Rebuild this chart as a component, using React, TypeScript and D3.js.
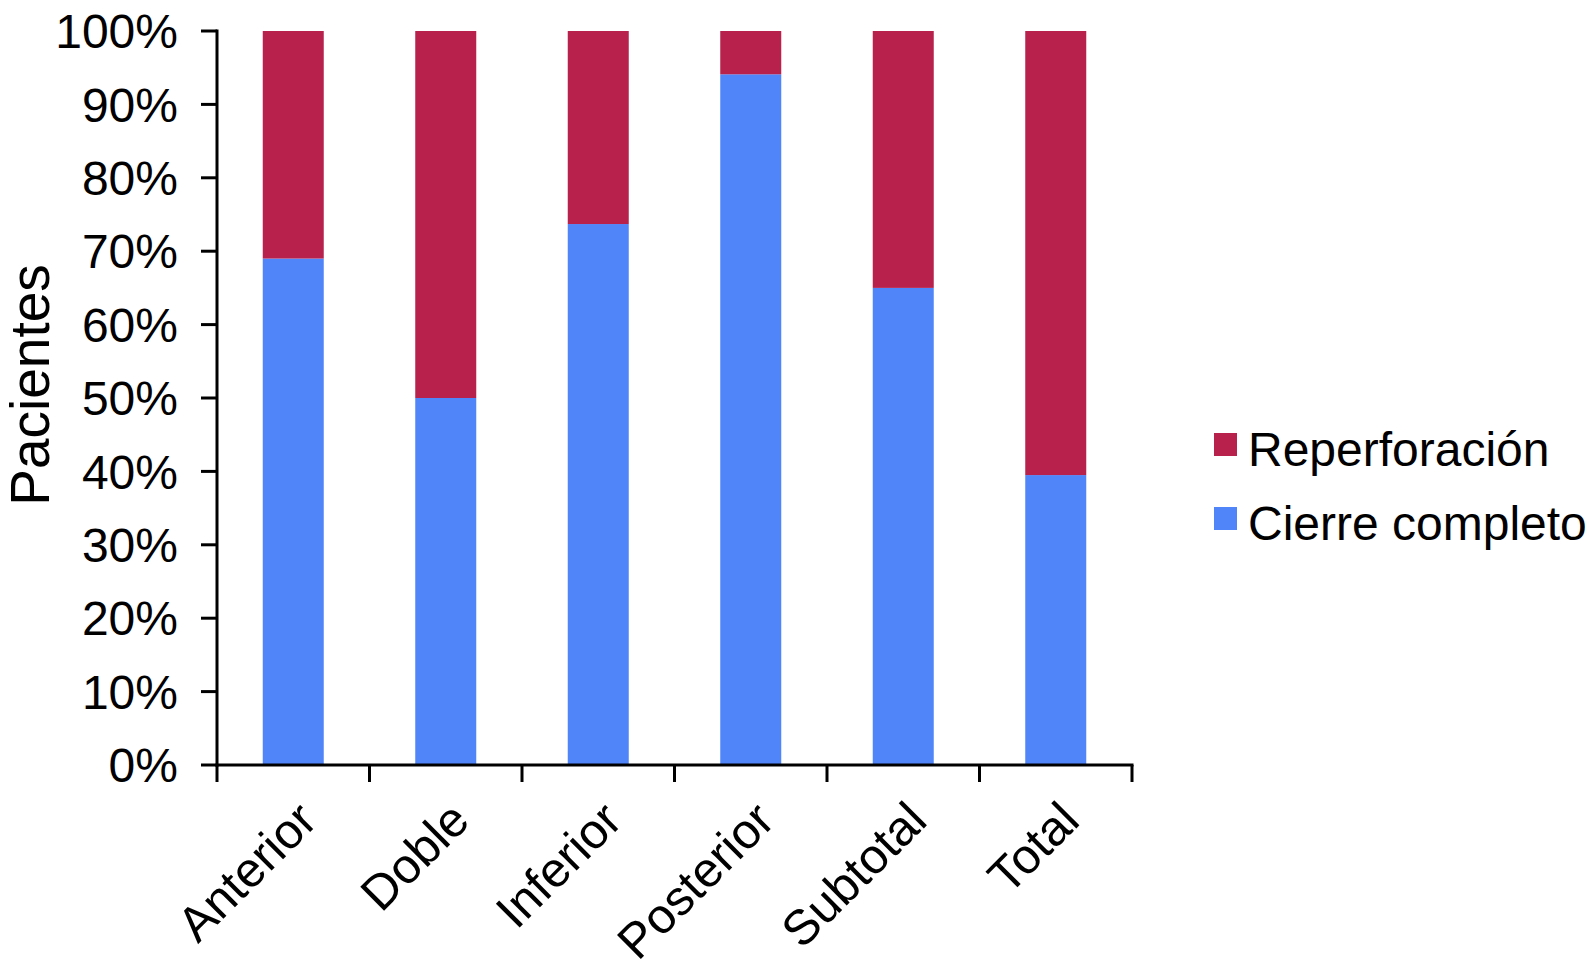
import React from "react";
import * as d3 from "d3";

const categories = ["Anterior", "Doble", "Inferior", "Posterior", "Subtotal", "Total"];
const cierreCompleto = [69, 50, 73.7, 94.1, 65, 39.5];
const reperforacion = cierreCompleto.map((v) => 100 - v);
const yTicks = [0, 10, 20, 30, 40, 50, 60, 70, 80, 90, 100];
const seriesNames = ["Reperforación", "Cierre completo"];
const seriesColors = ["#B8214B", "#5085FA"];

const W = 1590;
const H = 965;
const FONT = "'Liberation Sans', Arial, Helvetica, sans-serif";

export default function App() {
  const x = d3.scaleBand<string>().domain(categories).range([217, 1132]).paddingInner(0.6).paddingOuter(0.3);
  const y = d3.scaleLinear().domain([0, 100]).range([765, 31]);
  const step = x.step();
  const bw = x.bandwidth();
  const boundaries = [0, ...categories.map((_, i) => i + 1)].map((i) => 217 + i * step);

  const stack = d3.stack<any>().keys(["cierre", "reper"]);
  const rows = categories.map((c, i) => ({ cat: c, cierre: cierreCompleto[i], reper: reperforacion[i] }));
  const layers = stack(rows);
  const layerColor: Record<string, string> = { cierre: seriesColors[1], reper: seriesColors[0] };

  return (
    <div style={{ position: "absolute", left: 0, top: 0 }}>
      <svg width={W} height={H} style={{ display: "block", background: "#fff" }} fontFamily={FONT}>
        {layers.map((layer) =>
          layer.map((d, i) => (
            <rect
              key={layer.key + i}
              x={x(categories[i])}
              y={y(d[1])}
              width={bw}
              height={y(d[0]) - y(d[1])}
              fill={layerColor[layer.key]}
            />
          ))
        )}
        {/* y axis */}
        <line x1={217} x2={217} y1={y(100) - 1.5} y2={y(0) + 1.5} stroke="#000" strokeWidth={3} />
        {yTicks.map((t) => (
          <g key={t}>
            <line x1={201} x2={217} y1={y(t)} y2={y(t)} stroke="#000" strokeWidth={3} />
            <text x={178} y={y(t)} dy="0.36em" textAnchor="end" fontSize={48} fill="#000">
              {t}%
            </text>
          </g>
        ))}
        {/* x axis */}
        <line x1={215.5} x2={1133.5} y1={y(0)} y2={y(0)} stroke="#000" strokeWidth={3} />
        {boundaries.map((b, i) => (
          <line key={i} x1={b} x2={b} y1={y(0)} y2={y(0) + 17} stroke="#000" strokeWidth={3} />
        ))}
        {categories.map((c) => {
          const cx = (x(c) as number) + bw / 2 + 26;
          const cy = 823;
          return (
            <text key={c} x={cx} y={cy} textAnchor="end" fontSize={49} fill="#000" transform={`rotate(-45 ${cx} ${cy})`}>
              {c}
            </text>
          );
        })}
        <text x={49} y={385} textAnchor="middle" fontSize={55} fill="#000" transform={`rotate(-90 49 385)`}>
          Pacientes
        </text>
        {/* legend */}
        {seriesNames.map((s, i) => (
          <g key={s}>
            <rect x={1214} y={433 + i * 74} width={23} height={23} fill={seriesColors[i]} />
            <text x={1248} y={466 + i * 74} fontSize={48} fill="#000">
              {s}
            </text>
          </g>
        ))}
      </svg>
    </div>
  );
}
